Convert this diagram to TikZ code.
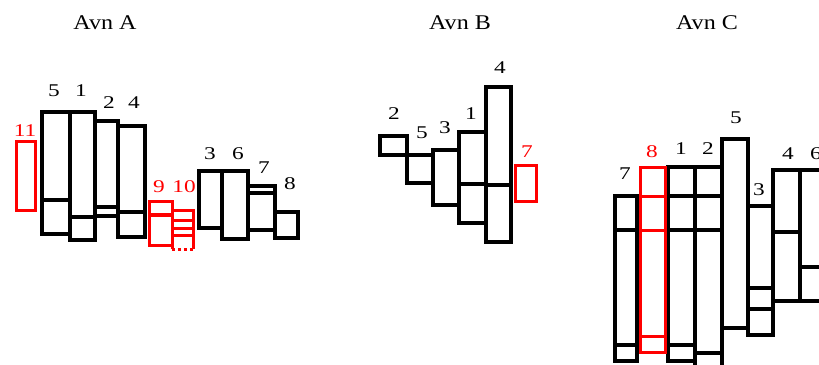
\documentclass[tikz,border=0pt]{standalone}
\usepackage{fontspec}
\setmainfont{Liberation Serif}[FakeStretch=1.3]
\newfontfamily\ttlfont{Liberation Serif}[FakeStretch=1.15]
\tikzset{
  blk/.style={draw=black, line width=4bp},
  dv/.style={draw=black, line width=3.5bp},
  redbox/.style={draw=red, line width=3bp},
  lbl/.style={font=\fontsize{18}{18}\selectfont, inner sep=0pt},
  rlbl/.style={lbl, text=red},
  ttl/.style={font=\ttlfont\fontsize{21}{21}\selectfont, inner sep=0pt}
}
\begin{document}
\begin{tikzpicture}[x=1bp,y=-1bp]
\useasboundingbox (0,0) rectangle (819,364);
\clip (0,0) rectangle (819,364);
% ---------- titles
\node[ttl] (tA) at (105,23) {Avn A};
\node[ttl] (tB) at (460,23) {Avn B};
\node[ttl] (tC) at (707,23) {Avn C};
% ---------- Avn A
\draw[redbox] (16,141) rectangle (35,210);
\draw[blk] (42,112) rectangle (70,234); \draw[dv] (42,200) -- (70,200);
\draw[blk] (70,112) rectangle (95,240); \draw[dv] (70,217) -- (95,217);
\draw[blk] (95,121) rectangle (118,216); \draw[dv] (95,207) -- (118,207);
\draw[blk] (118,126) rectangle (145,237); \draw[dv] (118,212) -- (145,212);
\draw[redbox] (149,201) rectangle (172,245); \draw[redbox, line width=4.5bp] (149,215) -- (172,215);
\draw[redbox] (172,249) -- (172,210) -- (193,210) -- (193,249);
\draw[redbox, dashed] (172,249) -- (193,249);
\draw[redbox] (172,220) -- (193,220);
\draw[redbox] (172,228) -- (193,228);
\draw[redbox] (172,235) -- (193,235);
\draw[blk] (199,171) rectangle (222,228);
\draw[blk] (222,171) rectangle (248,239);
\draw[blk] (248,186) rectangle (275,230); \draw[dv] (248,193) -- (275,193);
\draw[blk] (275,212) rectangle (298,238);
\node[rlbl] (a11) at (25,131) {11};
\node[lbl] (a5) at (54,91) {5};
\node[lbl] (a1) at (81,91) {1};
\node[lbl] (a2) at (109,103) {2};
\node[lbl] (a4) at (134,103) {4};
\node[rlbl] (a9) at (159,187) {9};
\node[rlbl] (a10) at (184,187) {10};
\node[lbl] (a3) at (210,154) {3};
\node[lbl] (a6) at (238,154) {6};
\node[lbl] (a7) at (264,168) {7};
\node[lbl] (a8) at (290,184) {8};
% ---------- Avn B
\draw[blk] (380,136) rectangle (407,155);
\draw[blk] (407,155) rectangle (433,183);
\draw[blk] (433,150) rectangle (459,205);
\draw[blk] (459,132) rectangle (486,223); \draw[dv] (459,184) -- (486,184);
\draw[blk] (486,87) rectangle (511,242); \draw[dv] (486,185) -- (511,185);
\draw[redbox] (515,165) rectangle (536,201);
\node[lbl] (b2) at (394,114) {2};
\node[lbl] (b5) at (422,133) {5};
\node[lbl] (b3) at (445,128) {3};
\node[lbl] (b1) at (471,114) {1};
\node[lbl] (b4) at (500,68) {4};
\node[rlbl] (b7) at (527,152) {7};
% ---------- Avn C
\draw[blk] (615,196) rectangle (637,361);
\draw[dv] (615,230) -- (637,230); \draw[dv] (615,345) -- (637,345);
\draw[blk] (668,167) rectangle (695,361);
\draw[dv] (668,196) -- (695,196); \draw[dv] (668,230) -- (695,230); \draw[dv] (668,345) -- (695,345);
\draw[blk] (695,167) rectangle (722,372);
\draw[dv] (695,196) -- (722,196); \draw[dv] (695,230) -- (722,230); \draw[dv] (695,353) -- (722,353);
\draw[redbox] (640,167) rectangle (665,352);
\draw[redbox] (640,196) -- (665,196); \draw[redbox] (640,230) -- (665,230); \draw[redbox] (640,336) -- (665,336);
\draw[blk] (722,139) rectangle (748,328);
\draw[blk] (748,206) rectangle (773,335);
\draw[dv] (748,288) -- (773,288); \draw[dv] (748,309) -- (773,309);
\draw[blk] (773,170) rectangle (800,301); \draw[dv] (773,232) -- (800,232);
\draw[blk] (800,170) rectangle (832,301); \draw[dv] (800,267) -- (832,267);
\node[lbl] (c7) at (625,174) {7};
\node[rlbl] (c8) at (652,152) {8};
\node[lbl] (c1) at (681,149) {1};
\node[lbl] (c2) at (708,149) {2};
\node[lbl] (c5) at (736,118) {5};
\node[lbl] (c3) at (759,190) {3};
\node[lbl] (c4) at (788,154) {4};
\node[lbl] (c6) at (816,154) {6};
\end{tikzpicture}
\end{document}
